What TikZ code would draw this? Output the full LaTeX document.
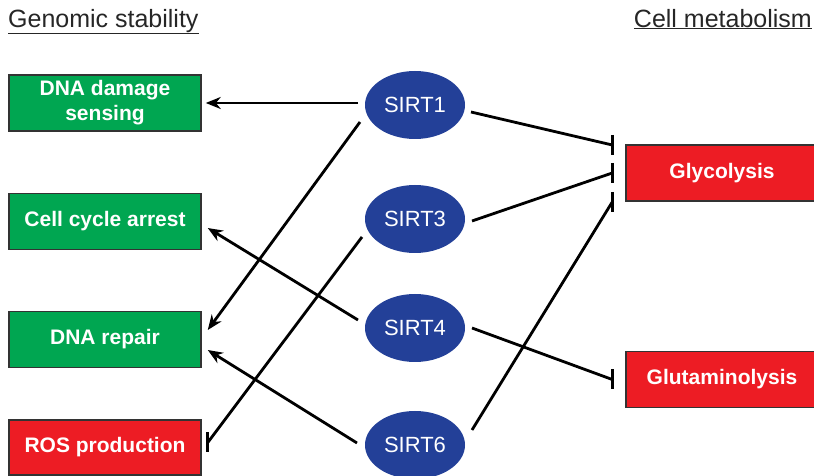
\documentclass[tikz,border=0pt]{standalone}
\usepackage{fontspec}
\setmainfont{Liberation Sans}
\usetikzlibrary{calc,arrows.meta,shapes.geometric}
\definecolor{boxgreen}{RGB}{0,166,81}
\definecolor{boxred}{RGB}{237,28,36}
\definecolor{sirtblue}{RGB}{35,64,152}
\tikzstyle{effect}=[rectangle,draw=black!80,line width=1.5pt,text=white,font=\bfseries\fontsize{21}{25}\selectfont,minimum width=192pt,minimum height=56pt,align=center,inner sep=0pt]
\tikzstyle{sirt}=[ellipse,fill=sirtblue,text=white,font=\fontsize{22}{26}\selectfont,minimum width=100pt,minimum height=68pt,inner sep=0pt]
\tikzstyle{title}=[font=\fontsize{25}{30}\selectfont,text=black!85,inner sep=0pt]
\tikzstyle{act}=[line width=2.8pt,-{Stealth[length=15pt,width=12pt]}]
\tikzstyle{inh}=[line width=2.8pt]
\tikzstyle{barend}=[line width=3pt]

\begin{document}
\begin{tikzpicture}[x=1pt,y=1pt]
		\useasboundingbox (0,0) rectangle (814,476);
		% headings
		\node [title,anchor=base west] (gs) at (8,448) {Genomic stability};
		\node [title,anchor=base east] (cm) at (812,448) {Cell metabolism};
		\draw [line width=1.5pt,black!85] (gs.south west)--(gs.south east);
		\draw [line width=1.5pt,black!85] (cm.south west)--(cm.south east);
		% boxes
		\node [effect,fill=boxgreen] (dds) at (105,373) {DNA damage\\sensing};
		\node [effect,fill=boxgreen] (cca) at (105,254.5) {Cell cycle arrest};
		\node [effect,fill=boxgreen] (rep) at (105,136.5) {DNA repair};
		\node [effect,fill=boxred,minimum height=55pt] (ros) at (105,28.5) {ROS production};
		\node [effect,fill=boxred] (gly) at (722,303) {Glycolysis};
		\node [effect,fill=boxred] (glu) at (722,96.5) {Glutaminolysis};
		% sirtuins
		\node [sirt] (s1) at (415,371) {SIRT1};
		\node [sirt] (s3) at (415,257) {SIRT3};
		\node [sirt] (s4) at (415,148) {SIRT4};
		\node [sirt] (s6) at (415,31) {SIRT6};
		% bar ends
		\coordinate (g1) at ($ (gly.west)+(-13,28) $);
		\coordinate (g2) at ($ (gly.west)+(-13,0) $);
		\coordinate (g3) at ($ (gly.west)+(-13,-29) $);
		\coordinate (r1) at ($ (ros.east)+(6,5) $);
		\coordinate (u1) at ($ (glu.west)+(-13,0) $);
		% activation
		\draw [act] ($ (s1)+(-57,2) $)--($ (dds.east)+(4,0) $);
		\draw [act] ($ (s1)+(-55,-17) $)--($ (rep.east)+(6,9.5) $);
		\draw [act] ($ (s4)+(-57,8) $)--($ (cca.east)+(6,-6.5) $);
		\draw [act] ($ (s6)+(-58,2) $)--($ (rep.east)+(6,-10.5) $);
		% inhibition
		\draw [inh] ($ (s1)+(56,-7) $)--(g1);
		\draw [inh] ($ (s3)+(57,-2) $)--(g2);
		\draw [inh] ($ (s6)+(57,15) $)--(g3);
		\draw [inh] ($ (s3)+(-53,-18) $)--(r1);
		\draw [inh] ($ (s4)+(57,0) $)--(u1);
		\foreach \c in {g1,g2,g3,r1,u1}
			\draw [barend] ($ (\c)+(0,10) $)--($ (\c)+(0,-10) $);
\end{tikzpicture}
\end{document}
